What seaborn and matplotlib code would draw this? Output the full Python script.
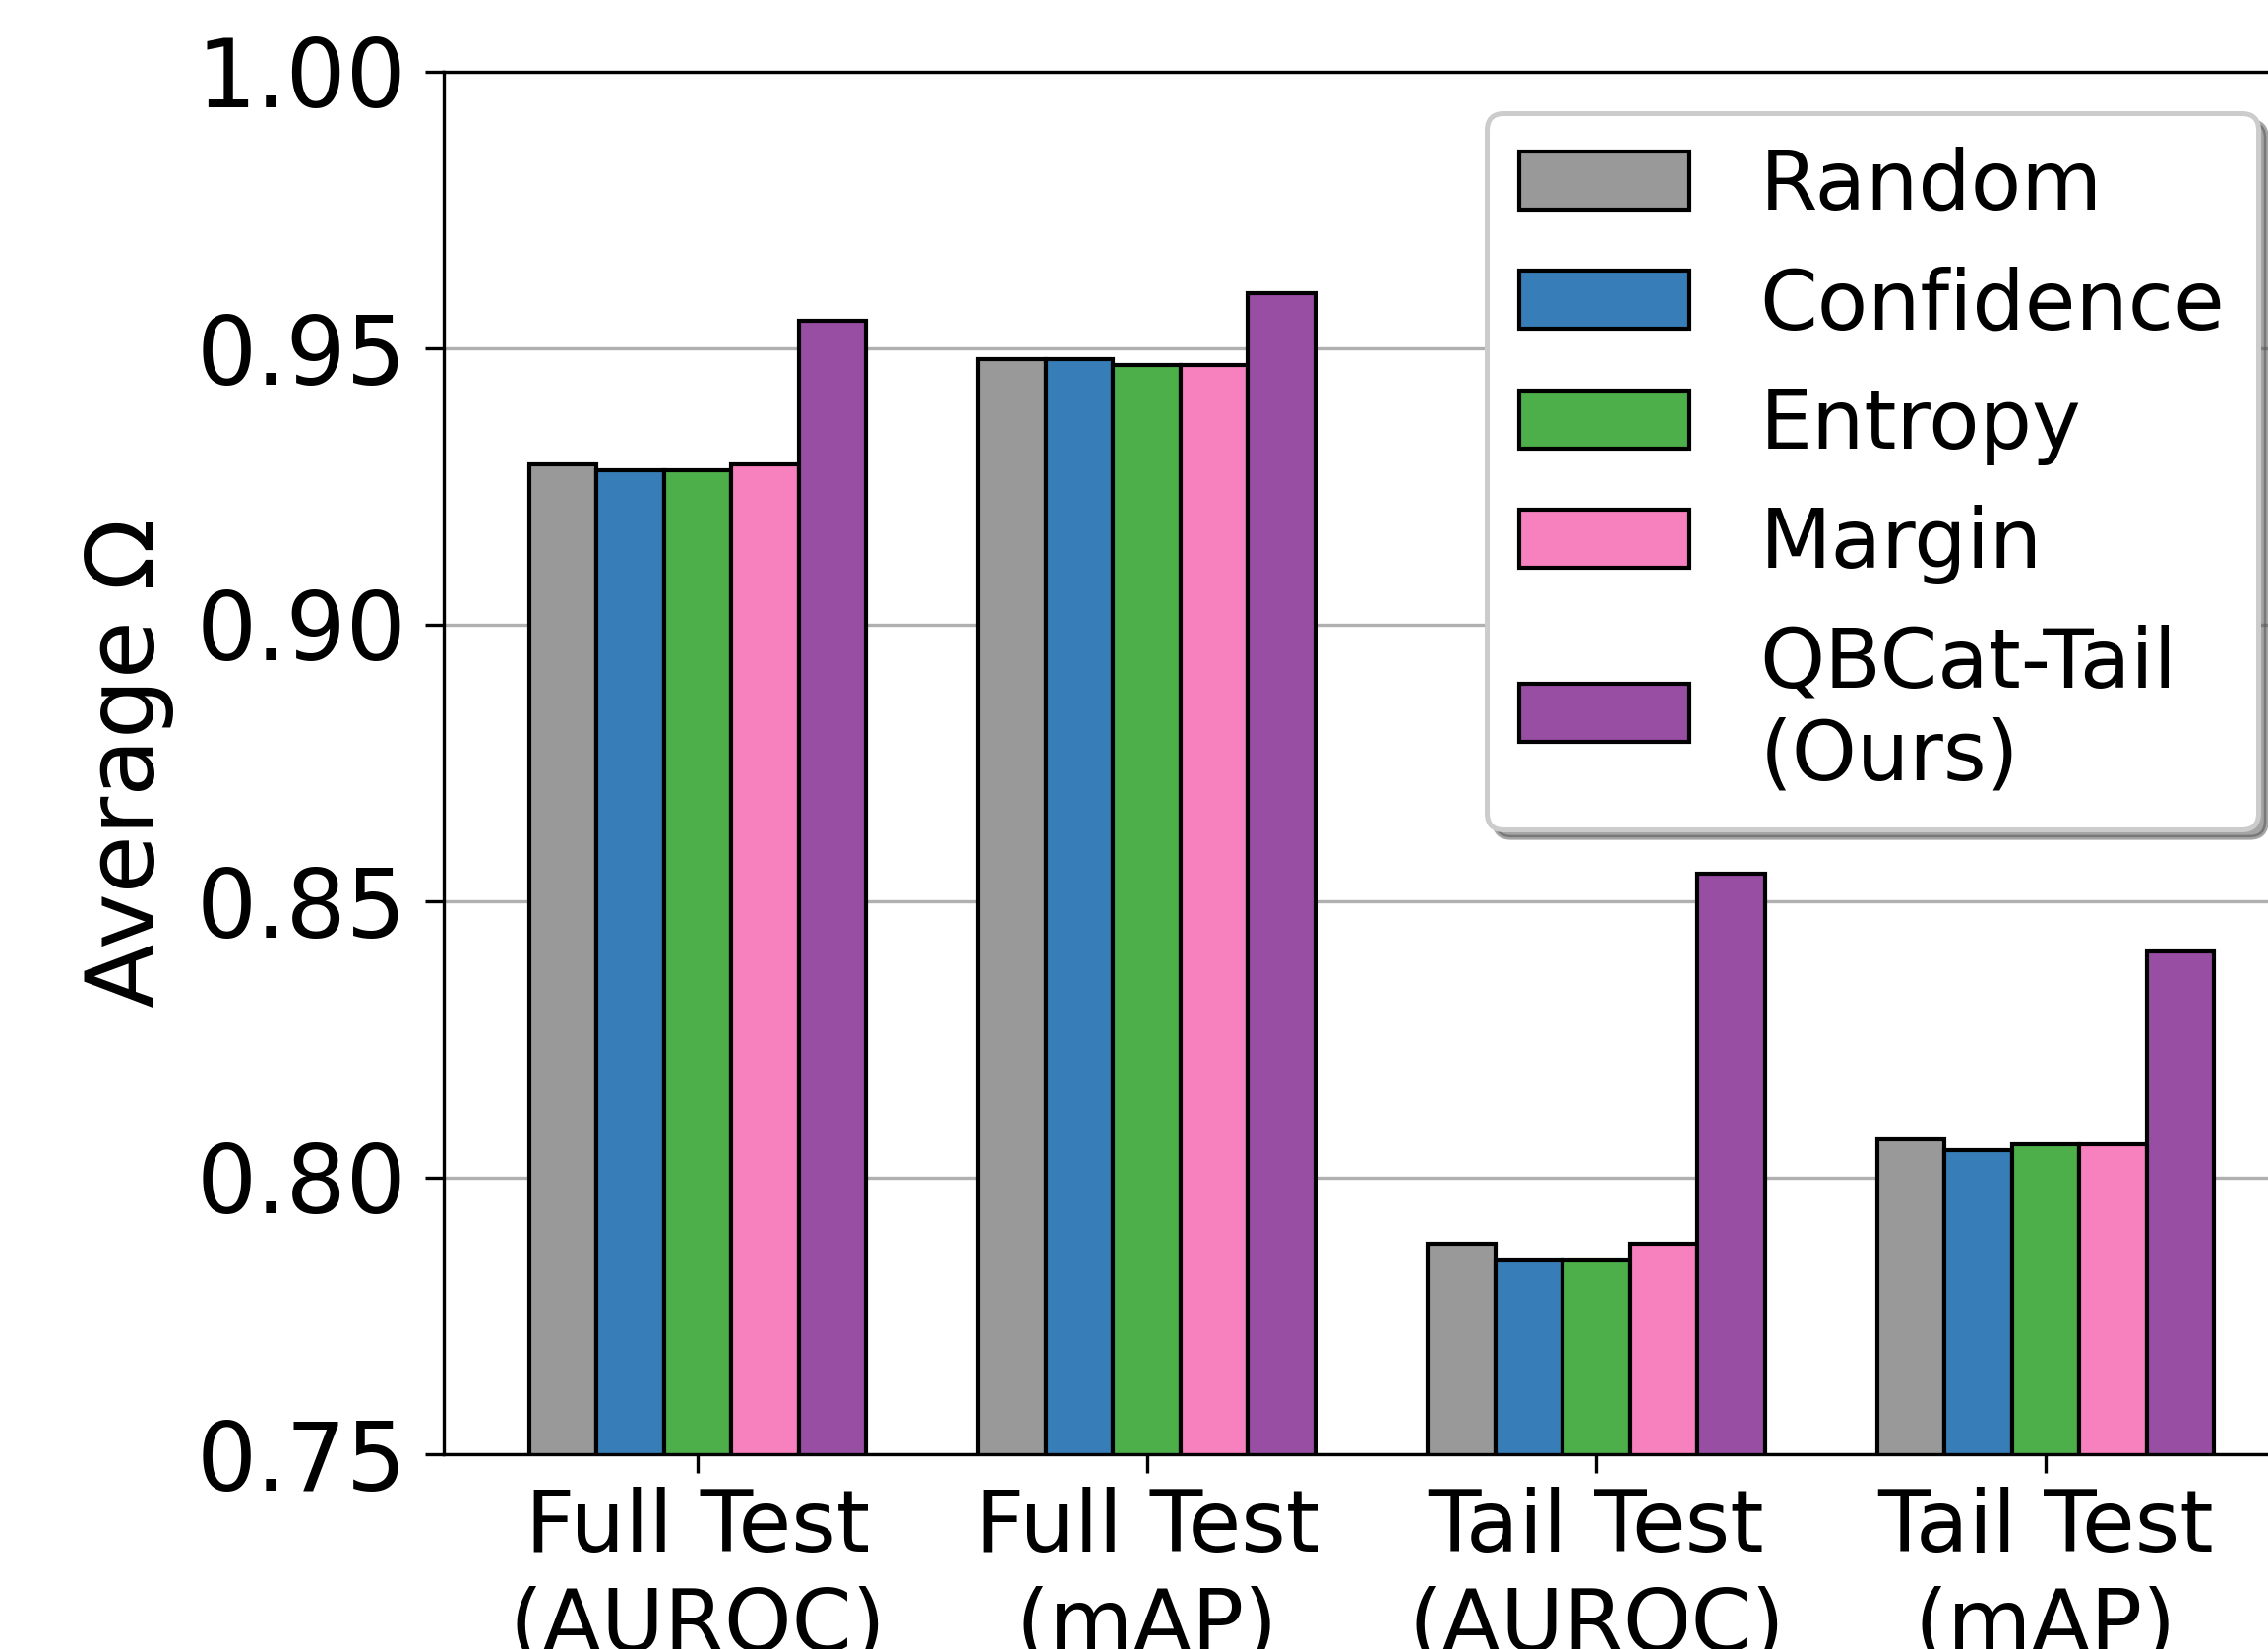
import pandas as pd
import numpy as np
import seaborn as sns
import matplotlib.pyplot as plt

# values
metrics = ['Full Test\n(AUROC)', 'Full Test\n(mAP)', 'Tail Test\n(AUROC)', 'Tail Test\n(mAP)']
methods = ['Random', 'Confidence', 'Entropy', 'Margin', 'QBCat-Tail\n(Ours)']
random_vals = [0.929, 0.948, 0.788, 0.807]
confidence_vals = [0.928, 0.948, 0.785, 0.805]
entropy_vals = [0.928, 0.947, 0.785, 0.806]
margin_vals = [0.929, 0.947, 0.788, 0.806]
qbcat_vals = [0.955, 0.960, 0.855, 0.841]
colors = ['#999999', '#377eb8', '#4daf4a', '#f781bf', '#984ea3']

series = [random_vals, confidence_vals, entropy_vals, margin_vals, qbcat_vals]
rows = []
for m, vals in zip(methods, series):
    for k, v in zip(metrics, vals):
        rows.append({'metric': k, 'method': m, 'value': v})
df = pd.DataFrame(rows)

plt.rcParams['font.family'] = ['DejaVu Sans']

fig = plt.figure(figsize=(2305 / 300, 1676 / 300), dpi=300)
# axes run a little past the right edge, like the cropped original
ax = fig.add_axes([451 / 2305, 198 / 1676, 1886 / 2305, 1405 / 1676])

sns.barplot(data=df, x='metric', y='value', hue='method', order=metrics, hue_order=methods,
            palette=colors, edgecolor='black', linewidth=1.0, width=0.75, gap=0,
            errorbar=None, saturation=1, ax=ax)

ax.set_xlim(-0.565, 3.565)
ax.set_ylim(0.75, 1.0)
ax.set_yticks([0.75, 0.80, 0.85, 0.90, 0.95, 1.00])
ax.set_yticklabels(['%.2f' % t for t in [0.75, 0.80, 0.85, 0.90, 0.95, 1.00]])
ax.grid(axis='y', color='#b0b0b0', linewidth=0.8)
ax.set_axisbelow(True)
ax.tick_params(axis='y', labelsize=23, length=4.5, width=0.8, pad=4.5)
ax.tick_params(axis='x', labelsize=21, length=4.5, width=0.8, pad=3.5)
for lbl in ax.get_xticklabels():
    lbl.set_linespacing(1.25)
ax.set_xlabel('')
ax.set_ylabel('Average Ω', fontsize=23, labelpad=5.5)
for sp in ax.spines.values():
    sp.set_linewidth(0.8)

leg = ax.legend(loc='upper right', fontsize=20.2, fancybox=True, shadow=True, framealpha=1,
                edgecolor='#cccccc', labelspacing=0.48, borderaxespad=0.5,
                handlelength=2.05, handletextpad=0.85)
leg.get_frame().set_linewidth(1.2)

fig.savefig('out.png', dpi=300)
